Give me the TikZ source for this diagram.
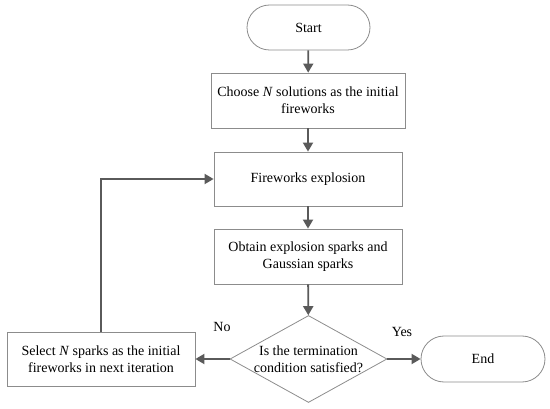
\documentclass[tikz,border=0pt]{standalone}
\usepackage{fontspec}
\setmainfont{Liberation Serif}
\usetikzlibrary{shapes.geometric, arrows.meta, positioning}
\definecolor{linegray}{HTML}{8C8C8C}
\definecolor{arrowgray}{HTML}{5A5A5A}
\tikzstyle{stepbox}=[draw=linegray, line width=0.8pt, minimum width=188pt, minimum height=54pt, align=center, inner sep=0pt]
\tikzstyle{terminal}=[draw=linegray, line width=0.8pt, rounded corners=22.5pt, minimum width=123pt, minimum height=45pt, inner sep=0pt]
\tikzstyle{decision}=[draw=linegray, line width=0.8pt, diamond, minimum width=157pt, minimum height=87pt, inner sep=0pt]
\tikzstyle{flow}=[-{Triangle[length=9pt,width=10pt]}, draw=arrowgray, line width=1.8pt]

\begin{document}
\begin{tikzpicture}[x=1pt,y=-1pt,font=\fontsize{14}{17}\selectfont]
    \useasboundingbox (0,0) rectangle (550,409);

    \node[terminal] (start) at (308.5,27.5) {Start};
    \node[stepbox, minimum width=194pt, minimum height=55pt] (init) at (308,100.5) {Choose \textit{N} solutions as the initial\\fireworks};
    \node[stepbox] (explode) at (308,179) {Fireworks explosion};
    \node[stepbox, minimum height=55pt] (obtain) at (308,256.5) {Obtain explosion sparks and\\Gaussian sparks};
    \node[decision] (check) at (308.5,359) {};
    \node[align=center] (checktext) at (check.center) {Is the termination\\condition satisfied?};
    \node[stepbox] (select) at (101,359) {Select \textit{N} sparks as the initial\\fireworks in next iteration};
    \node[terminal, minimum width=124pt, minimum height=46pt, rounded corners=23pt] (end) at (483,359) {End};

    \node (no) at (222,327) {No};
    \node (yes) at (402,332) {Yes};

    \draw[flow] (start) -- (init);
    \draw[flow] (init) -- (explode);
    \draw[flow] (explode) -- (obtain);
    \draw[flow] (obtain) -- (check);
    \draw[flow] (check.west) -- (select);
    \draw[flow] (check.east) -- (end);
    \draw[flow] (select.north) |- (explode.west);

\end{tikzpicture}
\end{document}
